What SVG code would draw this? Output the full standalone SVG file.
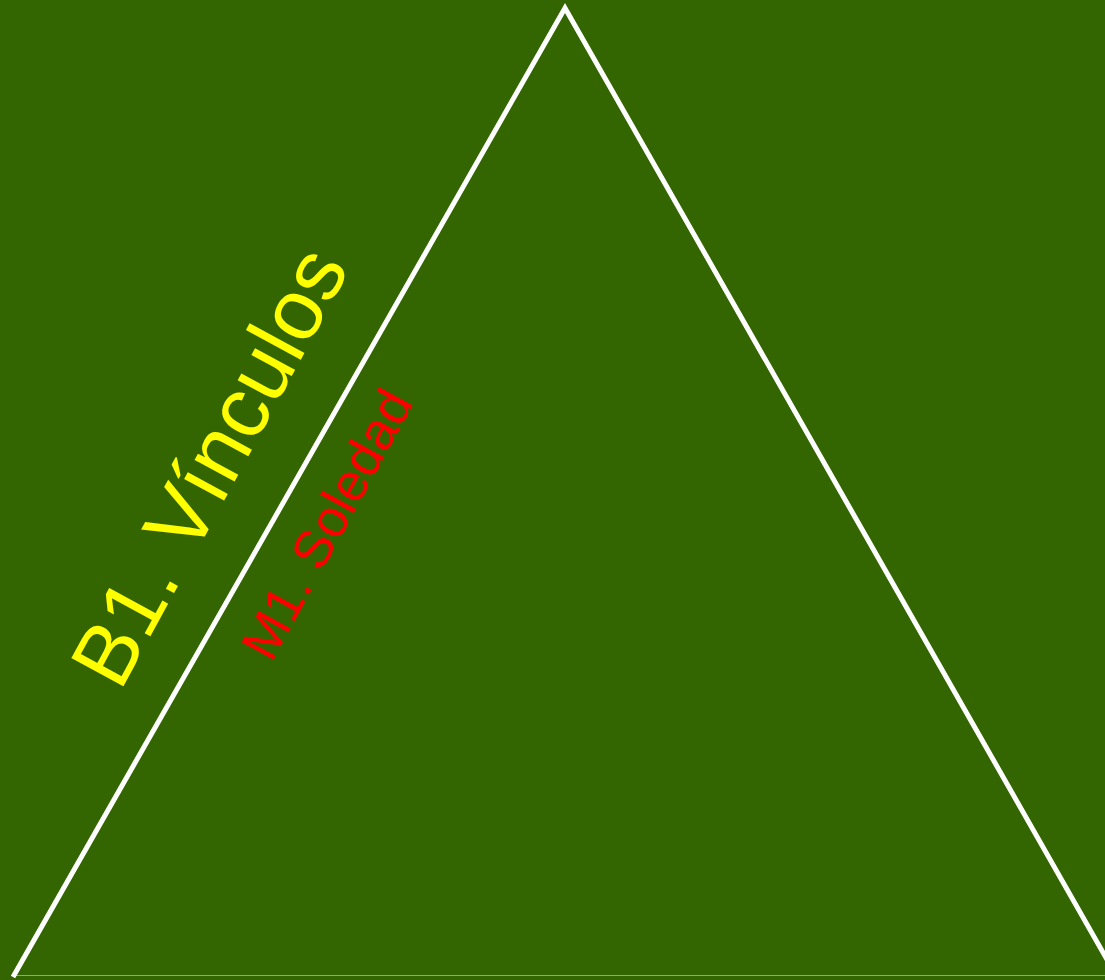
<svg xmlns="http://www.w3.org/2000/svg" width="1105" height="980" viewBox="0 0 1105 980">
<style>
.edge{fill:none;stroke:#ffffff;stroke-width:5;stroke-linejoin:miter}
.t{font-family:"Liberation Sans",Arial,sans-serif}
</style>
<rect x="0" y="0" width="1105" height="980" fill="#336600"/>
<g id="connectors">
<polyline class="edge" points="13,977 565,8 1117,977"/>
<line x1="13" y1="975.5" x2="1105" y2="975.5" stroke="#ffffff" stroke-opacity="0.45" stroke-width="1"/>
</g>
<g id="node-b1">
<text class="t" transform="translate(120,692.5) rotate(-61.5)" font-size="86" fill="#ffff00">B1. Vínculos</text>
</g>
<g id="node-m1">
<text class="t" transform="translate(271.4,663.4) rotate(-61.3)" font-size="53" fill="#ff0000">M1. Soledad</text>
</g>
</svg>
